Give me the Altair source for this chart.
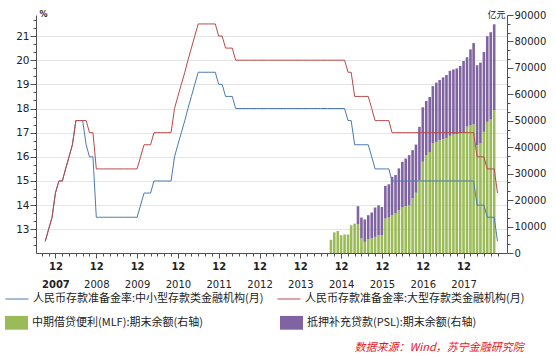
import altair as alt
import pandas as pd

S_SMALL = "人民币存款准备金率:中小型存款类金融机构(月)"
S_LARGE = "人民币存款准备金率:大型存款类金融机构(月)"
S_MLF = "中期借贷便利(MLF):期末余额(右轴)"
S_PSL = "抵押补充贷款(PSL):期末余额(右轴)"

BLUE = "#4A7AAF"
RED = "#B94A48"
GREEN = "#9BBB59"
PURPLE = "#8064A2"

# monthly, 2007-09 .. 2018-10
rate_months = pd.date_range("2007-09-01", "2018-10-01", freq="MS")

rrr_small = [
    12.5, 13.0, 13.5, 14.5,
    15.0, 15.0, 15.5, 16.0, 16.5, 17.5, 17.5, 17.5, 16.5, 16.0, 16.0, 13.5,
    13.5, 13.5, 13.5, 13.5, 13.5, 13.5, 13.5, 13.5, 13.5, 13.5, 13.5, 13.5,
    14.0, 14.5, 14.5, 14.5, 15.0, 15.0, 15.0, 15.0, 15.0, 15.0, 16.0, 16.5,
    17.0, 17.5, 18.0, 18.5, 19.0, 19.5, 19.5, 19.5, 19.5, 19.5, 19.5, 19.0,
    19.0, 18.5, 18.5, 18.5, 18.0, 18.0, 18.0, 18.0, 18.0, 18.0, 18.0, 18.0,
    18.0, 18.0, 18.0, 18.0, 18.0, 18.0, 18.0, 18.0, 18.0, 18.0, 18.0, 18.0,
    18.0, 18.0, 18.0, 18.0, 18.0, 18.0, 18.0, 18.0, 18.0, 18.0, 18.0, 18.0,
    18.0, 17.5, 17.5, 16.5, 16.5, 16.5, 16.5, 16.5, 16.0, 15.5, 15.5, 15.5,
    15.5, 15.5, 15.0, 15.0, 15.0, 15.0, 15.0, 15.0, 15.0, 15.0, 15.0, 15.0,
    15.0, 15.0, 15.0, 15.0, 15.0, 15.0, 15.0, 15.0, 15.0, 15.0, 15.0, 15.0,
    15.0, 15.0, 15.0, 14.0, 14.0, 14.0, 13.5, 13.5, 13.5, 12.5,
]

rrr_large = [
    12.5, 13.0, 13.5, 14.5,
    15.0, 15.0, 15.5, 16.0, 16.5, 17.5, 17.5, 17.5, 17.5, 17.0, 17.0, 15.5,
    15.5, 15.5, 15.5, 15.5, 15.5, 15.5, 15.5, 15.5, 15.5, 15.5, 15.5, 15.5,
    16.0, 16.5, 16.5, 16.5, 17.0, 17.0, 17.0, 17.0, 17.0, 17.0, 18.0, 18.5,
    19.0, 19.5, 20.0, 20.5, 21.0, 21.5, 21.5, 21.5, 21.5, 21.5, 21.5, 21.0,
    21.0, 20.5, 20.5, 20.5, 20.0, 20.0, 20.0, 20.0, 20.0, 20.0, 20.0, 20.0,
    20.0, 20.0, 20.0, 20.0, 20.0, 20.0, 20.0, 20.0, 20.0, 20.0, 20.0, 20.0,
    20.0, 20.0, 20.0, 20.0, 20.0, 20.0, 20.0, 20.0, 20.0, 20.0, 20.0, 20.0,
    20.0, 19.5, 19.5, 18.5, 18.5, 18.5, 18.5, 18.5, 18.0, 17.5, 17.5, 17.5,
    17.5, 17.5, 17.0, 17.0, 17.0, 17.0, 17.0, 17.0, 17.0, 17.0, 17.0, 17.0,
    17.0, 17.0, 17.0, 17.0, 17.0, 17.0, 17.0, 17.0, 17.0, 17.0, 17.0, 17.0,
    17.0, 17.0, 17.0, 16.0, 16.0, 16.0, 15.5, 15.5, 15.5, 14.5,
]

# monthly balances (亿元), 2014-09 .. 2018-09
bar_months = pd.date_range("2014-09-01", "2018-09-01", freq="MS")

mlf_balance = [
    5000, 7800, 8300, 6700,
    7000, 7000, 10500, 11100, 10900, 5500, 4200, 5100, 5500, 6100, 6700, 6700,
    13000, 13400, 14300, 15000, 16200, 17200, 17700, 18000, 20600, 22800, 27500, 34500,
    37000, 38200, 41400, 42000, 42600, 43000, 43500, 44300, 44800, 45000, 45200, 45300,
    47800, 48300, 48700, 40800, 41400, 45800, 49600, 50500, 54000,
]
psl_balance = [
    0, 0, 0, 0,
    0, 0, 0, 0, 6800, 7900, 8500, 9200, 9800, 11100, 11300, 10700,
    12400, 12600, 14500, 14500, 15800, 17300, 18000, 19000, 18300, 18200, 20200, 20600,
    20500, 20800, 21700, 22400, 22800, 23400, 23800, 24600, 24600, 24800, 25500, 27300,
    26200, 28700, 30700, 30200, 30600, 30200, 32400, 33000, 32500,
]

nr = len(rate_months)
nb = len(bar_months)
rates = pd.DataFrame({
    "date": list(rate_months) * 2,
    "series": [S_SMALL] * nr + [S_LARGE] * nr,
    "value": rrr_small + rrr_large,
})
bars = pd.DataFrame({
    "date": list(bar_months) * 2,
    "series": [S_MLF] * nb + [S_PSL] * nb,
    "stackorder": [0] * nb + [1] * nb,
    "value": mlf_balance + psl_balance,
})

NUM_FONT = "DejaVu Sans"
CJK_FONT = "Noto Sans CJK SC"
AXIS_COLOR = "#505050"

xscale = alt.Scale(domain=[alt.DateTime(year=2007, month=7, date=25),
                           alt.DateTime(year=2018, month=11, date=10)], nice=False)

tick_dates = [alt.DateTime(year=y, month=m, date=1)
              for y in range(2007, 2019) for m in (2, 4, 6, 8, 10, 12)
              if (2007, 8) <= (y, m) <= (2018, 10)]
dec_dates = [alt.DateTime(year=y, month=12, date=1) for y in range(2007, 2018)]

month_axis = alt.Axis(
    orient="bottom", values=tick_dates, title=None, grid=False,
    labelExpr="month(datum.value) == 11 ? '12' : ''",
    domainColor=AXIS_COLOR, tickColor=AXIS_COLOR,
    tickSize={"condition": {"test": "month(datum.value) == 11", "value": 5}, "value": 3},
    labelFont=NUM_FONT, labelFontSize=10, labelFontWeight="bold", labelColor="#222",
    labelPadding=3, labelFlush=False, labelOverlap=False,
)
year_axis = alt.Axis(
    orient="bottom", values=dec_dates, title=None, grid=False, ticks=False, domain=False,
    labelExpr="timeFormat(datum.value, '%Y')",
    labelFont=NUM_FONT, labelFontSize=10, labelColor="#222",
    labelFontWeight={"condition": {"test": "year(datum.value) == 2007", "value": "bold"},
                     "value": "normal"},
    labelPadding=26, labelFlush=False, labelOverlap=False,
)

left_vals = [k / 3 for k in range(37, 66)]
is_int = "abs(datum.value - round(datum.value)) < 0.01"
left_axis = alt.Axis(
    orient="left", values=left_vals, title="%",
    labelExpr=f"{is_int} ? format(round(datum.value), 'd') : ''",
    grid=True, gridColor="#E4E4E4", gridWidth=1,
    gridOpacity={"condition": {"test": is_int, "value": 1}, "value": 0},
    domainColor=AXIS_COLOR, tickColor=AXIS_COLOR,
    tickSize={"condition": {"test": is_int, "value": 6}, "value": 3},
    labelFont=NUM_FONT, labelFontSize=10.5, labelColor="#222", labelPadding=1,
    labelOverlap=False,
    titleAngle=0, titleX=3, titleY=-1, titleAlign="left", titleBaseline="middle",
    titleFont=NUM_FONT, titleFontSize=8, titleFontWeight="bold", titleColor="#222",
)

right_vals = [k * 10000 / 3 for k in range(0, 28)]
is_major = "abs(datum.value / 10000 - round(datum.value / 10000)) < 0.001"
right_axis = alt.Axis(
    orient="right", values=right_vals, title="亿元",
    labelExpr=f"{is_major} ? format(round(datum.value), 'd') : ''",
    grid=False,
    domainColor=AXIS_COLOR, tickColor=AXIS_COLOR,
    tickSize={"condition": {"test": is_major, "value": 6}, "value": 3},
    labelFont=NUM_FONT, labelFontSize=10, labelColor="#222", labelPadding=1,
    labelOverlap=False,
    titleAngle=0, titleX=-2, titleY=-1, titleAlign="right", titleBaseline="middle",
    titleFont=CJK_FONT, titleFontSize=9, titleFontWeight="normal", titleColor="#222",
)

line_legend = alt.Legend(
    title=None, orient="none", legendX=-31, legendY=272, direction="horizontal",
    columns=2, columnPadding=11, symbolType="stroke", symbolSize=529,
    symbolStrokeWidth=1, labelFont=CJK_FONT, labelFontSize=11, labelColor="#222",
    labelOffset=4, labelLimit=400,
)
bar_legend = alt.Legend(
    title=None, orient="none", legendX=-31, legendY=296, direction="horizontal",
    columns=2, columnPadding=77, symbolType="M-1,-0.6L1,-0.6L1,0.6L-1,0.6Z",
    symbolSize=529, symbolStrokeWidth=0, labelFont=CJK_FONT, labelFontSize=11,
    labelColor="#222", labelOffset=4, labelLimit=400,
)

bar_chart = alt.Chart(bars).mark_bar(size=2.6).encode(
    x=alt.X("date:T", scale=xscale, axis=month_axis),
    y=alt.Y("value:Q", stack="zero",
            scale=alt.Scale(domain=[0, 90000], nice=False, zero=True), axis=right_axis),
    fill=alt.Fill("series:N", scale=alt.Scale(domain=[S_MLF, S_PSL], range=[GREEN, PURPLE]),
                  legend=bar_legend),
    order=alt.Order("stackorder:Q", sort="ascending"),
)

base_line = alt.Chart(rates).mark_line(strokeWidth=1, interpolate="linear").encode(
    x=alt.X("date:T", scale=xscale, axis=year_axis),
    y=alt.Y("value:Q", scale=alt.Scale(domain=[12.02, 21.87], nice=False, zero=False),
            axis=left_axis),
    stroke=alt.Stroke("series:N", scale=alt.Scale(domain=[S_SMALL, S_LARGE], range=[BLUE, RED]),
                      legend=line_legend),
)
lines = alt.layer(
    base_line.transform_filter(alt.datum.series == S_SMALL),
    base_line.transform_filter(alt.datum.series == S_LARGE),
)

chart = (
    alt.layer(bar_chart, lines)
    .resolve_scale(y="independent")
    .resolve_axis(x="independent", y="independent")
    .properties(
        width=471, height=238,
        autosize=alt.AutoSizeParams(type="none"),
        padding={"left": 36, "top": 15, "right": 49, "bottom": 103},
        title=alt.TitleParams(
            text="数据来源：Wind，苏宁金融研究院", orient="bottom", anchor="end",
            color="#E8141B", fontStyle="italic", fontWeight="normal", font=CJK_FONT,
            fontSize=11, dx=-22, offset=12,
        ),
        background="white",
    )
    .configure_view(stroke=None)
)

chart.save("out.html", embed_options={"renderer": "svg", "actions": False})
